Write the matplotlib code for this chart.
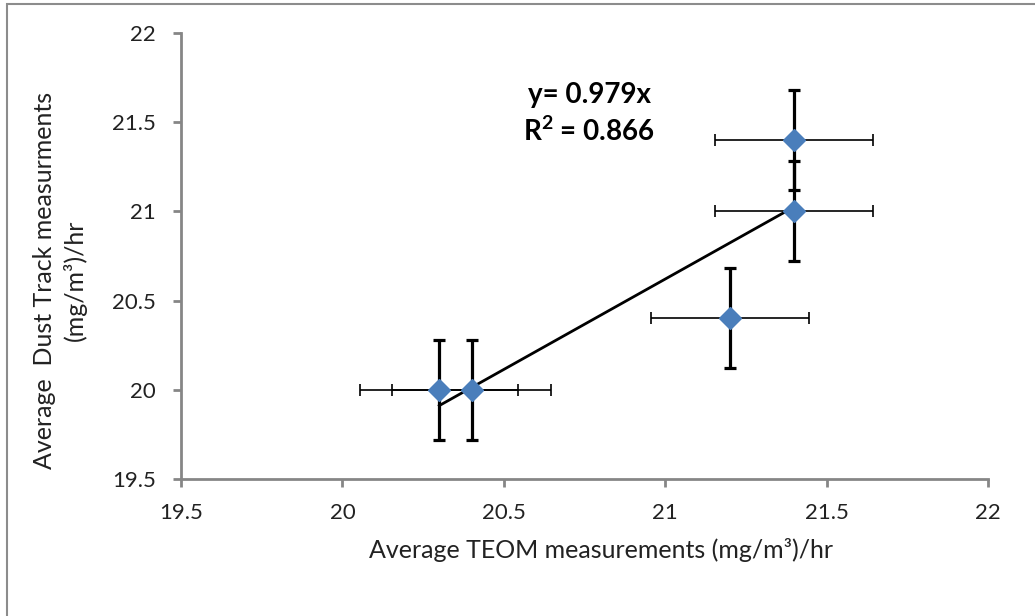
import numpy as np
import matplotlib
matplotlib.use("Agg")
import matplotlib.pyplot as plt
from matplotlib.patches import Rectangle
from matplotlib.ticker import FuncFormatter

plt.rcParams['font.family'] = ['Lato', 'DejaVu Sans']
plt.rcParams['mathtext.fontset'] = 'custom'
plt.rcParams['mathtext.rm'] = 'Lato'
plt.rcParams['mathtext.bf'] = 'Lato:bold'

# averages with their error margins
teom = [20.3, 20.4, 21.2, 21.4, 21.4]
dust_track = [20.0, 20.0, 20.4, 21.0, 21.4]
teom_err = [0.245, 0.245, 0.245, 0.245, 0.245]
dust_err = [0.28, 0.28, 0.28, 0.28, 0.28]
ticks = [19.5, 20, 20.5, 21, 21.5, 22]

fig = plt.figure(figsize=(10.35, 6.16), dpi=100)
ax = fig.add_axes([0.1749, 0.2224, 0.7797, 0.724])

# outer chart frame
fig.patches.append(Rectangle((7 / 1035, -0.05), 1.1, 1 - 4 / 616 + 0.05,
                             transform=fig.transFigure, fill=False,
                             edgecolor='#8c8c8c', linewidth=1.5))

# trendline from a linear fit, drawn across the data range
slope, icpt = np.polyfit(teom, dust_track, 1)
xs = np.array([min(teom), max(teom)])
ax.plot(xs, slope * xs + icpt, color='black', linewidth=2, zorder=2)

# horizontal (thin) and vertical (thick) error bars
ax.errorbar(teom, dust_track, xerr=teom_err, fmt='none', ecolor='black',
            elinewidth=1.2, capsize=4.3, capthick=1.2, zorder=1)
ax.errorbar(teom, dust_track, yerr=dust_err, fmt='none', ecolor='black',
            elinewidth=2.3, capsize=4.3, capthick=2.3, zorder=1)
ax.plot(teom, dust_track, linestyle='none', marker='D', markersize=11,
        color='#4A7EBB', markeredgecolor='#4A7EBB', zorder=3)

ax.set_xlim(19.5, 22)
ax.set_ylim(19.5, 22)
ax.set_xticks(ticks)
ax.set_yticks(ticks)
fmt = FuncFormatter(lambda v, p: f"{v:g}")
ax.xaxis.set_major_formatter(fmt)
ax.yaxis.set_major_formatter(fmt)

for side in ['top', 'right']:
    ax.spines[side].set_visible(False)
for side in ['left', 'bottom']:
    ax.spines[side].set_color('#868686')
    ax.spines[side].set_linewidth(2)
ax.tick_params(direction='out', length=6, width=2, color='#868686',
               labelsize=16, labelcolor='#222222')
ax.tick_params(axis='x', pad=11)
ax.tick_params(axis='y', pad=12)

ax.set_xlabel('Average TEOM measurements (mg/m\u00b3)/hr', fontsize=18,
              color='#222222')
ax.xaxis.set_label_coords(0.52, -0.132)
ax.set_ylabel('Average  Dust Track measurments\n(mg/m\u00b3)/hr', fontsize=18,
              color='#222222', linespacing=1.35)
ax.yaxis.set_label_coords(-0.117, 0.446)

ax.text(0.506, 0.818, 'y= 0.979x\nR$^{\\mathbf{2}}$ = 0.866',
        transform=ax.transAxes, ha='center', va='center', fontsize=20,
        fontweight='bold', linespacing=1.35)

fig.savefig('out.png', dpi=100)
